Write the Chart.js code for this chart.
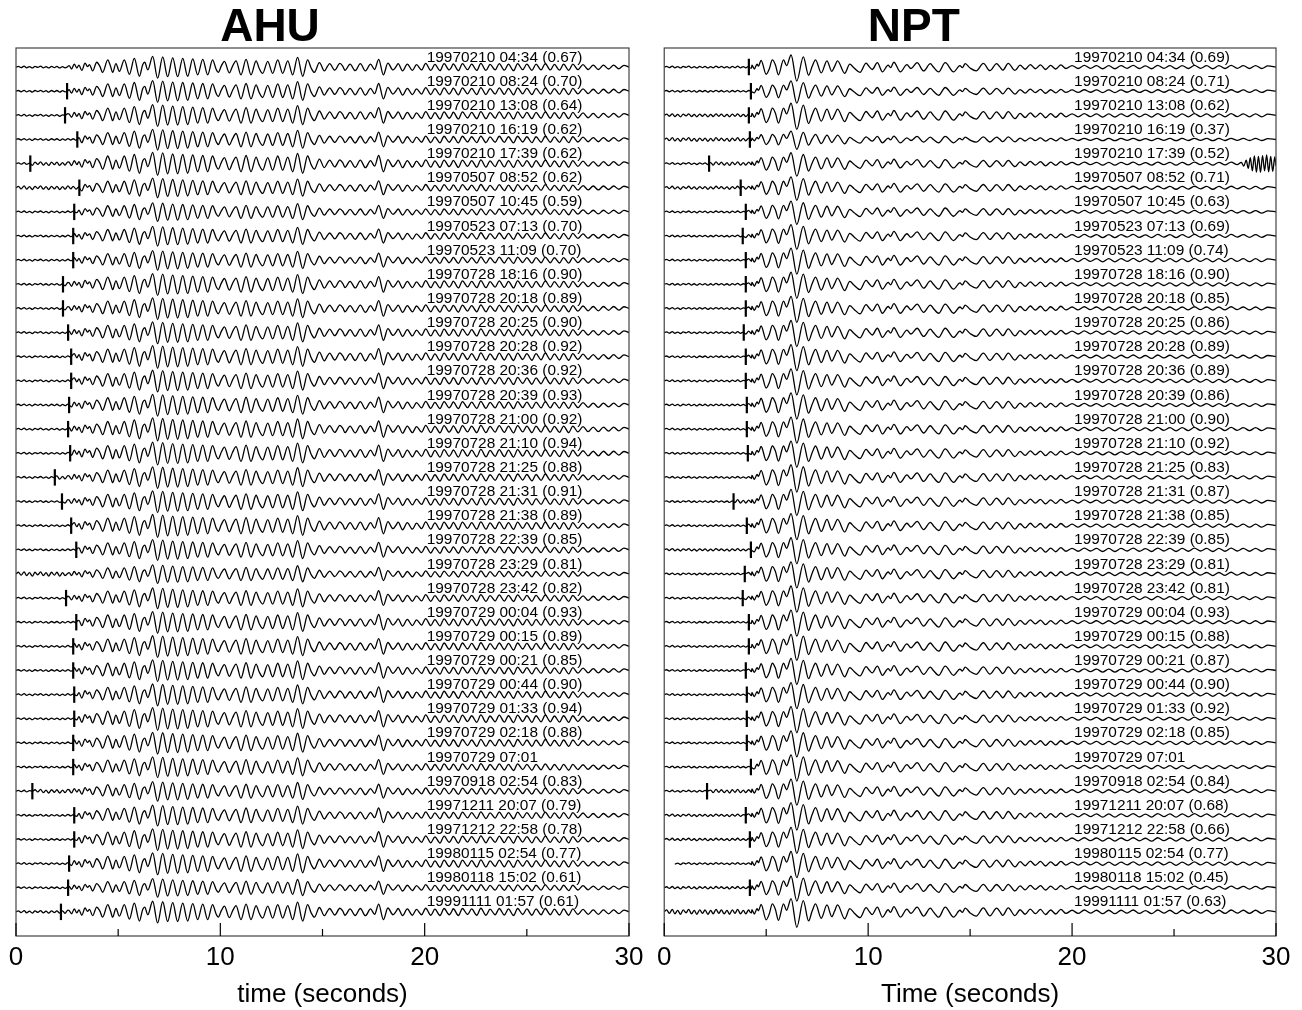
<!DOCTYPE html>
<html>
<head>
<meta charset="utf-8">
<script src="https://cdn.jsdelivr.net/npm/chart.js@4.4.0/dist/chart.umd.min.js"></script>
<style>
  body { margin: 0; background: #fff; }
  #wrap { display: flex; width: 1302px; height: 1010px; }
  .panel { position: relative; width: 651px; height: 1010px; }
</style>
</head>
<body>
<div id="wrap">
  <div class="panel"><canvas id="ahu"></canvas></div>
  <div class="panel"><canvas id="npt"></canvas></div>
</div>
<script>
// tick labels on the time axis
const xTickValues = [0, 10, 20, 30];

// event labels, top to bottom
const ahuLabels = [
  '19970210 04:34 (0.67)', '19970210 08:24 (0.70)', '19970210 13:08 (0.64)', '19970210 16:19 (0.62)',
  '19970210 17:39 (0.62)', '19970507 08:52 (0.62)', '19970507 10:45 (0.59)', '19970523 07:13 (0.70)',
  '19970523 11:09 (0.70)', '19970728 18:16 (0.90)', '19970728 20:18 (0.89)', '19970728 20:25 (0.90)',
  '19970728 20:28 (0.92)', '19970728 20:36 (0.92)', '19970728 20:39 (0.93)', '19970728 21:00 (0.92)',
  '19970728 21:10 (0.94)', '19970728 21:25 (0.88)', '19970728 21:31 (0.91)', '19970728 21:38 (0.89)',
  '19970728 22:39 (0.85)', '19970728 23:29 (0.81)', '19970728 23:42 (0.82)', '19970729 00:04 (0.93)',
  '19970729 00:15 (0.89)', '19970729 00:21 (0.85)', '19970729 00:44 (0.90)', '19970729 01:33 (0.94)',
  '19970729 02:18 (0.88)', '19970729 07:01', '19970918 02:54 (0.83)', '19971211 20:07 (0.79)',
  '19971212 22:58 (0.78)', '19980115 02:54 (0.77)', '19980118 15:02 (0.61)', '19991111 01:57 (0.61)'
];
const nptLabels = [
  '19970210 04:34 (0.69)', '19970210 08:24 (0.71)', '19970210 13:08 (0.62)', '19970210 16:19 (0.37)',
  '19970210 17:39 (0.52)', '19970507 08:52 (0.71)', '19970507 10:45 (0.63)', '19970523 07:13 (0.69)',
  '19970523 11:09 (0.74)', '19970728 18:16 (0.90)', '19970728 20:18 (0.85)', '19970728 20:25 (0.86)',
  '19970728 20:28 (0.89)', '19970728 20:36 (0.89)', '19970728 20:39 (0.86)', '19970728 21:00 (0.90)',
  '19970728 21:10 (0.92)', '19970728 21:25 (0.83)', '19970728 21:31 (0.87)', '19970728 21:38 (0.85)',
  '19970728 22:39 (0.85)', '19970728 23:29 (0.81)', '19970728 23:42 (0.81)', '19970729 00:04 (0.93)',
  '19970729 00:15 (0.88)', '19970729 00:21 (0.87)', '19970729 00:44 (0.90)', '19970729 01:33 (0.92)',
  '19970729 02:18 (0.85)', '19970729 07:01', '19970918 02:54 (0.84)', '19971211 20:07 (0.68)',
  '19971212 22:58 (0.66)', '19980115 02:54 (0.77)', '19980118 15:02 (0.45)', '19991111 01:57 (0.63)'
];

// pick times (s), null = no pick mark
const ahuPick = [null, 2.5, 2.4, 3.0, 0.7, 3.1, 2.85, 2.8, 2.8, 2.3, 2.3, 2.55, 2.7, 2.7, 2.6, 2.55, 2.65, 1.9,
  2.25, 2.7, 2.95, null, 2.45, 2.95, 2.8, 2.8, 2.85, 2.85, 2.8, 2.8, 0.8, 2.85, 2.85, 2.6, 2.55, 2.2];
const nptPick = [4.15, 4.25, 4.15, 4.2, 2.2, 3.75, 4.0, 3.85, 4.0, 4.0, 4.0, 3.9, 4.0, 4.0, 4.05, 4.05, 4.1, null,
  3.4, 4.05, 4.25, 3.95, 3.85, 4.15, 4.15, 4.0, 4.05, 4.05, 4.05, 4.25, 2.1, 4.0, 4.2, null, 4.2, null];

// relative amplitude of each trace
const ahuGain = [1.0, 1.0, 1.0, 0.95, 1.05, 0.9, 0.85, 0.9, 0.9, 1.0, 1.0, 1.0, 1.05, 1.0, 1.0, 1.05, 1.05, 1.0,
  1.0, 1.05, 0.95, 0.85, 0.95, 1.0, 1.0, 1.0, 1.0, 1.05, 1.0, 0.95, 0.9, 0.95, 1.0, 1.0, 0.85, 1.0];
const nptGain = [1.0, 0.85, 1.0, 0.7, 0.9, 0.9, 0.9, 0.95, 1.0, 1.0, 1.0, 1.0, 1.0, 1.0, 1.0, 1.0, 1.0, 1.05,
  1.0, 1.0, 1.0, 1.0, 1.0, 1.0, 1.0, 1.0, 1.0, 1.0, 1.0, 1.0, 1.0, 1.05, 1.0, 1.0, 0.95, 1.1];

// pre-event noise level of each trace
const ahuNoise = [1.5, 1.5, 1.5, 1.5, 1.5, 3, 1.5, 1.5, 1.5, 1.5, 1.5, 1.5, 1.5, 1.5, 1.5, 1.5, 1.5, 1.5,
  1.5, 1.5, 1.5, 3.5, 1.5, 1.5, 1.5, 1.5, 1.5, 1.5, 1.5, 1.5, 1.5, 1.5, 1.5, 1.5, 1.5, 2];
const nptNoise = [1.5, 1.5, 2.5, 3, 1.5, 2.5, 1.5, 1.5, 1.5, 1.5, 1.5, 1.5, 1.5, 1.5, 1.5, 1.5, 1.5, 1.5,
  1.5, 1.5, 2, 1.5, 1.5, 1.5, 1.5, 1.5, 1.5, 1.5, 1.5, 1.5, 1.5, 2, 2, 1.5, 2, 4];

// record start time (s)
const ahuStart = [0, 0, 0, 0, 0, 0, 0, 0, 0, 0, 0, 0, 0, 0, 0, 0, 0, 0,
  0, 0, 0, 0, 0, 0, 0, 0, 0, 0, 0, 0, 0, 0, 0, 0, 0, 0];
const nptStart = [0, 0, 0, 0, 0, 0, 0, 0, 0, 0, 0, 0, 0, 0, 0, 0, 0, 0,
  0, 0, 0, 0, 0, 0, 0, 0, 0, 0, 0, 0, 0, 0, 0, 0.45, 0, 0];

// background noise before the arrival [t, amplitude]
const preNoise = [[0, 0], [0.12, 0.02], [0.25, -0.015], [0.4, 0.025], [0.52, -0.02], [0.66, 0.015], [0.8, -0.025],
  [0.93, 0.02], [1.07, -0.01], [1.2, 0.025], [1.34, -0.02], [1.47, 0.015], [1.6, -0.025], [1.74, 0.02],
  [1.88, -0.015], [2.0, 0.02], [2.14, -0.025], [2.28, 0.015], [2.4, -0.02], [2.54, 0.025], [2.68, -0.015],
  [2.8, 0.02], [2.94, -0.02], [3.08, 0.015], [3.2, -0.025], [3.34, 0.02], [3.47, -0.015], [3.6, 0.025],
  [3.74, -0.02], [3.88, 0.015], [4.0, -0.02], [4.14, 0.02], [4.28, -0.015], [4.42, 0.02]];

// AHU waveform extrema [t, amplitude in trace spacings]
const ahuWave = [
  [2.6, 0.06], [2.72, -0.08], [2.85, 0.12], [2.98, -0.04], [3.08, 0.08], [3.22, -0.14], [3.38, 0.16], [3.5, 0.02],
  [3.6, 0.1], [3.75, -0.16], [3.95, 0.2], [4.1, 0.04], [4.24, -0.22], [4.49, 0.3], [4.62, 0.05], [4.73, -0.22],
  [4.89, 0.14], [5.06, -0.18], [5.3, 0.3], [5.55, -0.3], [5.79, 0.36], [6.04, -0.38], [6.2, 0.1], [6.3, 0.2],
  [6.45, -0.12], [6.69, 0.44], [6.93, -0.46], [7.18, 0.42], [7.42, -0.4], [7.67, 0.38], [7.91, -0.4], [8.16, 0.36],
  [8.4, -0.38], [8.65, 0.34], [8.89, -0.32], [9.14, 0.32], [9.38, -0.32], [9.62, 0.3], [9.8, -0.1], [9.9, -0.22],
  [10.05, 0.05], [10.2, 0.24], [10.44, -0.24], [10.6, 0.04], [10.77, 0.26], [11.01, -0.32], [11.26, 0.32],
  [11.5, -0.32], [11.75, 0.26], [11.9, -0.05], [12.07, -0.26], [12.32, 0.24], [12.56, -0.26], [12.81, 0.3],
  [13.05, -0.26], [13.3, 0.26], [13.54, -0.32], [13.78, 0.4], [14.03, -0.38], [14.27, 0.3], [14.45, -0.05],
  [14.6, -0.22], [14.85, 0.18], [15.09, -0.16], [15.25, 0.04], [15.35, 0.14], [15.6, -0.13], [15.85, 0.15],
  [16.0, 0.02], [16.1, -0.14], [16.35, 0.12], [16.6, -0.15], [16.85, 0.14], [17.1, -0.16], [17.35, 0.12],
  [17.55, -0.1], [17.75, 0.32], [17.98, -0.32], [18.2, 0.16], [18.45, -0.12], [18.6, 0.02], [18.7, 0.14],
  [18.92, -0.16], [19.15, 0.12], [19.4, -0.14], [19.6, 0.1], [19.85, -0.12], [20.05, 0.15], [20.3, -0.14],
  [20.5, 0.11], [20.75, -0.15], [20.95, 0.14], [21.2, -0.12], [21.3, -0.02], [21.4, 0.13], [21.65, -0.15],
  [21.85, 0.14], [22.1, -0.11], [22.3, 0.12], [22.55, -0.14], [22.75, 0.15], [23.0, -0.14], [23.2, 0.11],
  [23.45, -0.12], [23.65, 0.14], [23.9, -0.13], [24.1, 0.12], [24.35, -0.15], [24.55, 0.14], [24.8, -0.11],
  [25.0, 0.12], [25.25, -0.14], [25.45, 0.12], [25.7, -0.12], [25.9, 0.14], [26.15, -0.12], [26.35, 0.11],
  [26.6, -0.13], [26.8, 0.12], [27.05, -0.14], [27.25, 0.12], [27.5, -0.11], [27.75, 0.1], [28.0, -0.1],
  [28.25, 0.08], [28.5, -0.1], [28.75, 0.08], [29.0, -0.08], [29.25, 0.08], [29.5, -0.07], [29.75, 0.07], [30, 0]
];

// NPT waveform extrema [t, amplitude in trace spacings]
const nptWave = [
  [4.3, 0.08], [4.42, -0.08], [4.55, 0.12], [4.62, 0.04], [4.75, 0.28], [5.0, -0.3], [5.15, -0.08], [5.3, 0.3],
  [5.45, 0.1], [5.6, -0.32], [5.85, 0.3], [6.0, 0.06], [6.22, 0.5], [6.5, -0.58], [6.82, 0.42], [7.08, -0.34],
  [7.25, 0.02], [7.42, 0.3], [7.7, -0.24], [7.98, 0.26], [8.22, -0.18], [8.35, 0.02], [8.5, 0.26], [8.85, -0.26],
  [9.1, 0.12], [9.3, -0.03], [9.6, -0.22], [9.9, 0.16], [10.05, 0.02], [10.2, -0.1], [10.45, 0.18], [10.7, -0.2],
  [10.98, 0.08], [11.1, -0.02], [11.26, 0.2], [11.58, -0.2], [11.9, 0.1], [12.1, -0.06], [12.4, 0.18],
  [12.72, -0.16], [13.05, 0.14], [13.2, 0.0], [13.46, -0.2], [13.78, 0.18], [14.19, -0.2], [14.5, 0.06],
  [14.62, -0.02], [14.76, 0.14], [15.0, -0.04], [15.3, -0.16], [15.65, 0.15], [15.97, -0.15], [16.3, 0.14],
  [16.45, 0.02], [16.6, -0.13], [16.87, 0.15], [17.2, -0.14], [17.45, 0.08], [17.7, -0.09], [17.95, 0.1],
  [18.2, -0.07], [18.45, 0.09], [18.7, -0.1], [18.95, 0.07], [19.2, -0.08], [19.45, 0.09], [19.7, -0.06],
  [20.0, 0.06], [20.3, -0.06], [20.6, 0.07], [20.9, -0.05], [21.2, 0.06], [21.5, -0.07], [21.8, 0.06],
  [22.1, -0.07], [22.4, 0.06], [22.7, -0.05], [23.0, 0.07], [23.3, -0.06], [23.6, 0.05], [23.9, -0.07],
  [24.2, 0.07], [24.5, -0.05], [24.8, 0.06], [25.1, -0.07], [25.4, 0.06], [25.7, -0.06], [26.0, 0.07],
  [26.3, -0.05], [26.6, 0.06], [26.9, -0.07], [27.2, 0.06], [27.5, -0.06], [27.8, 0.07], [28.1, -0.05],
  [28.4, 0.06], [28.7, -0.06], [29.0, 0.06], [29.3, -0.06], [29.6, 0.05], [30, 0]
];

// high-frequency burst at the end of NPT 19970210 17:39
const nptBurstRow = 4;
const nptBurst = [[28.3, 0.05], [28.42, -0.1], [28.54, 0.14], [28.64, -0.2], [28.74, 0.25], [28.84, -0.3],
  [28.94, 0.32], [29.04, -0.35], [29.14, 0.3], [29.24, -0.36], [29.34, 0.33], [29.44, -0.3], [29.54, 0.36],
  [29.64, -0.34], [29.74, 0.3], [29.84, -0.32], [29.94, 0.28], [30, -0.1]];

const nTraces = 36;
const labelTime = 20.1;   // where the event labels start
const labelLift = 0.4;    // labels sit above their trace
const pickHalf = 0.34;    // half length of pick marks

function traceData(i, pick, defOnset, wave, gain, nGain, start, burst) {
  const off = nTraces - 1 - i;
  const onset = pick === null ? defOnset : pick;
  const w0 = wave[0][0];
  const pts = [];
  preNoise.forEach(p => {
    if (p[0] >= start && p[0] < onset) pts.push({x: p[0], y: off + p[1] * nGain});
  });
  pts.push({x: Math.max(onset, start), y: off});
  preNoise.forEach(p => {
    if (p[0] > onset + 0.05 && p[0] < w0) pts.push({x: p[0], y: off + p[1] * 3});
  });
  wave.forEach(p => {
    if (p[0] <= onset + 0.05) return;
    if (burst && p[0] >= burst[0][0]) return;
    pts.push({x: p[0], y: off + p[1] * gain});
  });
  if (burst) burst.forEach(p => pts.push({x: p[0], y: off + p[1]}));
  return pts;
}

function makeDatasets(picks, defOnset, wave, gains, noises, starts, burstRow, burst) {
  const sets = [];
  picks.forEach((pk, i) => {
    sets.push({
      data: traceData(i, pk, defOnset, wave, gains[i], noises[i], starts[i], i === burstRow ? burst : null),
      borderColor: '#000', borderWidth: 1.3, pointRadius: 0,
      cubicInterpolationMode: 'monotone'
    });
    if (pk !== null) {
      const off = nTraces - 1 - i;
      sets.push({
        data: [{x: pk, y: off - pickHalf}, {x: pk, y: off + pickHalf}],
        borderColor: '#000', borderWidth: 2.2, pointRadius: 0, tension: 0
      });
    }
  });
  return sets;
}

const decor = {
  id: 'decor',
  afterDatasetsDraw(chart, args, opts) {
    const {ctx, chartArea: a, scales: {x, y}} = chart;
    ctx.save();
    ctx.strokeStyle = '#444';
    ctx.lineWidth = 1.2;
    ctx.strokeRect(a.left, a.top, a.right - a.left, a.bottom - a.top);
    ctx.strokeStyle = '#000';
    for (let v = 0; v <= 30; v += 5) {
      const px = x.getPixelForValue(v);
      const len = v % 10 === 0 ? 13 : 7;
      ctx.beginPath();
      ctx.moveTo(px, a.bottom);
      ctx.lineTo(px, a.bottom - len);
      ctx.stroke();
    }
    ctx.fillStyle = '#000';
    ctx.font = '15.4px "Liberation Sans", Arial, sans-serif';
    ctx.textBaseline = 'middle';
    ctx.textAlign = 'left';
    opts.labels.forEach((s, i) => {
      ctx.fillText(s, x.getPixelForValue(labelTime), y.getPixelForValue(nTraces - 1 - i + labelLift));
    });
    ctx.font = 'bold 46px "Liberation Sans", Arial, sans-serif';
    ctx.textAlign = 'center';
    ctx.fillText(opts.title, x.getPixelForValue(opts.titleAt), 28);
    ctx.restore();
  }
};

function makeChart(id, title, titleAt, axisTitle, labels, datasets, pad) {
  return new Chart(document.getElementById(id), {
    type: 'line',
    data: { datasets: datasets },
    plugins: [decor],
    options: {
      responsive: true,
      maintainAspectRatio: false,
      animation: false,
      events: [],
      layout: { padding: pad },
      plugins: {
        legend: { display: false },
        tooltip: { enabled: false },
        decor: { labels: labels, title: title, titleAt: titleAt }
      },
      scales: {
        x: {
          type: 'linear',
          min: 0,
          max: 30,
          afterBuildTicks: s => { s.ticks = xTickValues.map(v => ({value: v})); },
          afterFit: s => { s.height = 74; },
          grid: { display: false, drawTicks: false },
          border: { display: false },
          ticks: {
            color: '#000',
            padding: 6,
            maxRotation: 0,
            font: { family: '"Liberation Sans", Arial, sans-serif', size: 26 }
          },
          title: {
            display: true,
            text: axisTitle,
            color: '#000',
            padding: { top: 0, bottom: 0 },
            font: { family: '"Liberation Sans", Arial, sans-serif', size: 26 }
          }
        },
        y: {
          display: false,
          min: -1.0,
          max: 35.79
        }
      }
    }
  });
}

makeChart('ahu', 'AHU', 12.43, 'time (seconds)', ahuLabels,
  makeDatasets(ahuPick, 2.5, ahuWave, ahuGain, ahuNoise, ahuStart, -1, null),
  { left: 16, right: 22, top: 48, bottom: 0 });

makeChart('npt', 'NPT', 12.24, 'Time (seconds)', nptLabels,
  makeDatasets(nptPick, 4.2, nptWave, nptGain, nptNoise, nptStart, nptBurstRow, nptBurst),
  { left: 12, right: 26, top: 48, bottom: 0 });
</script>
</body>
</html>
